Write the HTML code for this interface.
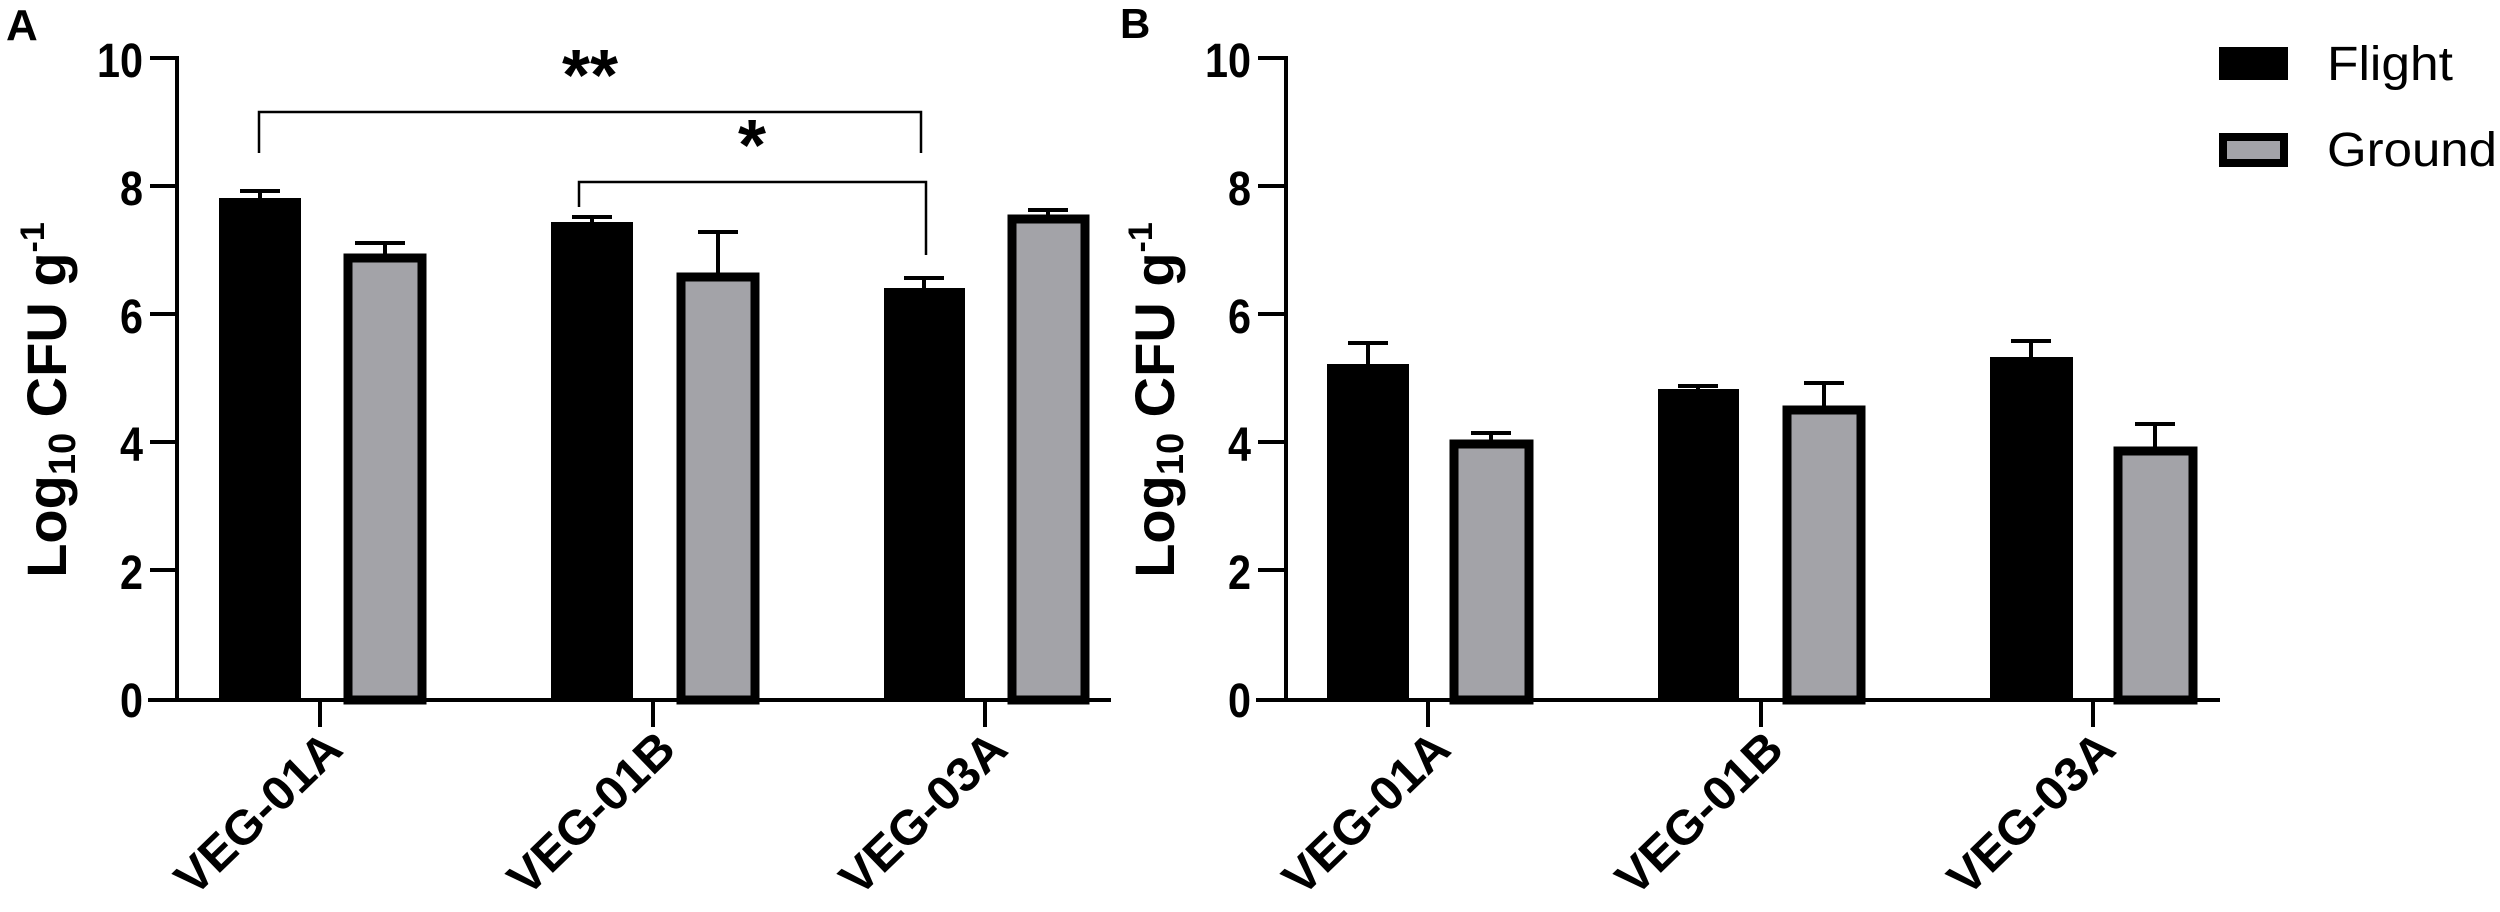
<!DOCTYPE html>
<html><head><meta charset="utf-8"><style>
html,body{margin:0;padding:0;background:#fff;}
svg{display:block;}
text{font-family:"Liberation Sans",Arial,sans-serif;fill:#000;}
</style></head><body>
<svg width="2500" height="912" viewBox="0 0 2500 912" xmlns="http://www.w3.org/2000/svg">
<g id="A">
 <text x="6" y="40" font-size="44" font-weight="bold">A</text>
 <path d="M150 58H177V700" fill="none" stroke="#000" stroke-width="4"/>
 <path d="M150 186H177M150 314H177M150 442H177M150 570H177" stroke="#000" stroke-width="4"/>
 <path d="M148 700H1111" stroke="#000" stroke-width="4"/>
 <path d="M320 700V727M653 700V727M985 700V727" stroke="#000" stroke-width="4"/>
 <g font-size="48" font-weight="bold" text-anchor="end">
  <text x="143" y="77" textLength="46" lengthAdjust="spacingAndGlyphs">10</text>
  <text x="143" y="205" textLength="23" lengthAdjust="spacingAndGlyphs">8</text>
  <text x="143" y="333" textLength="23" lengthAdjust="spacingAndGlyphs">6</text>
  <text x="143" y="461" textLength="23" lengthAdjust="spacingAndGlyphs">4</text>
  <text x="143" y="589" textLength="23" lengthAdjust="spacingAndGlyphs">2</text>
  <text x="143" y="717" textLength="23" lengthAdjust="spacingAndGlyphs">0</text>
 </g>
 <text transform="translate(66,400) rotate(-90)" font-size="56" font-weight="bold" text-anchor="middle">Log<tspan font-size="38" dy="9">10</tspan><tspan dy="-9"> CFU g</tspan><tspan font-size="34" dy="-22">-1</tspan></text>
 <rect x="219" y="198" width="82" height="502" fill="#000"/>
 <rect x="348" y="258" width="74" height="442" fill="#a3a3a8" stroke="#000" stroke-width="9"/>
 <rect x="551" y="222" width="82" height="478" fill="#000"/>
 <rect x="681" y="277" width="74" height="423" fill="#a3a3a8" stroke="#000" stroke-width="9"/>
 <rect x="884" y="288" width="81" height="412" fill="#000"/>
 <rect x="1012" y="219" width="73" height="481" fill="#a3a3a8" stroke="#000" stroke-width="9"/>
 <g stroke="#000" stroke-width="4">
  <path d="M260 198V191M240 191H280"/>
  <path d="M385 254V243M355 243H405"/>
  <path d="M592 222V217M572 217H612"/>
  <path d="M718 273V232M698 232H738"/>
  <path d="M924 288V278M904 278H944"/>
  <path d="M1048 215V210M1028 210H1068"/>
 </g>
 <g stroke="#000" stroke-width="2.5" fill="none">
  <path d="M259 153V112H921V153"/>
  <path d="M579 207V182H926V255"/>
 </g>
 <text x="590" y="100" font-size="72" font-weight="bold" text-anchor="middle">**</text>
 <text x="752" y="170" font-size="72" font-weight="bold" text-anchor="middle">*</text>
 <g font-size="48" font-weight="bold" text-anchor="end">
  <text transform="translate(345,752) rotate(-44)" textLength="210" lengthAdjust="spacingAndGlyphs">VEG-01A</text>
  <text transform="translate(678,752) rotate(-44)" textLength="210" lengthAdjust="spacingAndGlyphs">VEG-01B</text>
  <text transform="translate(1010,752) rotate(-44)" textLength="210" lengthAdjust="spacingAndGlyphs">VEG-03A</text>
 </g>
</g>
<g id="B">
 <text x="1120" y="38" font-size="42" font-weight="bold">B</text>
 <path d="M1258 58H1286V700" fill="none" stroke="#000" stroke-width="4"/>
 <path d="M1258 186H1286M1258 314H1286M1258 442H1286M1258 570H1286" stroke="#000" stroke-width="4"/>
 <path d="M1256 700H2220" stroke="#000" stroke-width="4"/>
 <path d="M1428 700V727M1761 700V727M2093 700V727" stroke="#000" stroke-width="4"/>
 <g font-size="48" font-weight="bold" text-anchor="end">
  <text x="1251" y="77" textLength="46" lengthAdjust="spacingAndGlyphs">10</text>
  <text x="1251" y="205" textLength="23" lengthAdjust="spacingAndGlyphs">8</text>
  <text x="1251" y="333" textLength="23" lengthAdjust="spacingAndGlyphs">6</text>
  <text x="1251" y="461" textLength="23" lengthAdjust="spacingAndGlyphs">4</text>
  <text x="1251" y="589" textLength="23" lengthAdjust="spacingAndGlyphs">2</text>
  <text x="1251" y="717" textLength="23" lengthAdjust="spacingAndGlyphs">0</text>
 </g>
 <text transform="translate(1174,400) rotate(-90)" font-size="56" font-weight="bold" text-anchor="middle">Log<tspan font-size="38" dy="9">10</tspan><tspan dy="-9"> CFU g</tspan><tspan font-size="34" dy="-22">-1</tspan></text>
 <rect x="1327" y="364" width="82" height="336" fill="#000"/>
 <rect x="1454" y="444" width="75" height="256" fill="#a3a3a8" stroke="#000" stroke-width="9"/>
 <rect x="1658" y="389" width="81" height="311" fill="#000"/>
 <rect x="1787" y="410" width="74" height="290" fill="#a3a3a8" stroke="#000" stroke-width="9"/>
 <rect x="1990" y="357" width="83" height="343" fill="#000"/>
 <rect x="2118" y="451" width="75" height="249" fill="#a3a3a8" stroke="#000" stroke-width="9"/>
 <g stroke="#000" stroke-width="4">
  <path d="M1368 364V343M1348 343H1388"/>
  <path d="M1491 440V433M1471 433H1511"/>
  <path d="M1698 389V386M1678 386H1718"/>
  <path d="M1824 406V383M1804 383H1844"/>
  <path d="M2031 357V341M2011 341H2051"/>
  <path d="M2155 447V424M2135 424H2175"/>
 </g>
 <g font-size="48" font-weight="bold" text-anchor="end">
  <text transform="translate(1453,752) rotate(-44)" textLength="210" lengthAdjust="spacingAndGlyphs">VEG-01A</text>
  <text transform="translate(1786,752) rotate(-44)" textLength="210" lengthAdjust="spacingAndGlyphs">VEG-01B</text>
  <text transform="translate(2118,752) rotate(-44)" textLength="210" lengthAdjust="spacingAndGlyphs">VEG-03A</text>
 </g>
 <rect x="2219" y="47" width="69" height="33" fill="#000"/>
 <rect x="2223" y="137" width="61" height="26" fill="#a3a3a8" stroke="#000" stroke-width="8"/>
 <text x="2327" y="80" font-size="48" textLength="126" lengthAdjust="spacingAndGlyphs">Flight</text>
 <text x="2327" y="166" font-size="48" textLength="170" lengthAdjust="spacingAndGlyphs">Ground</text>
</g>
</svg>
</body></html>
